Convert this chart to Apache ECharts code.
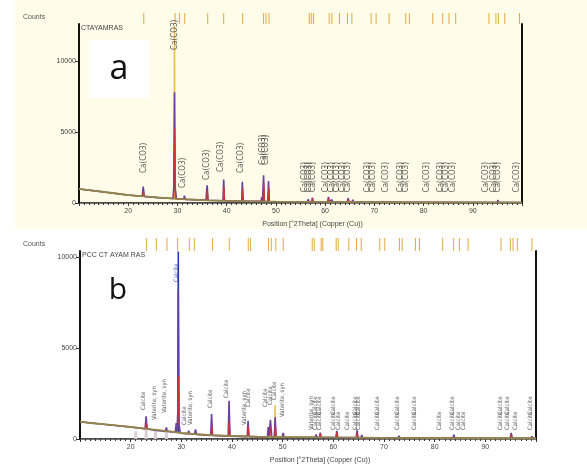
<!DOCTYPE html>
<html>
<head>
<meta charset="utf-8">
<script src="https://cdn.jsdelivr.net/npm/echarts@6/dist/echarts.min.js"></script>
<style>
html, body { margin: 0; padding: 0; background: #fff; }
#main { width: 587px; height: 465px; }
</style>
</head>
<body>
<div id="main"></div>
<script>
// ---- panel a : CTAYAMRAS ----
var thetaA = [10, 15, 20, 22.85, 23.05, 23.25, 26, 29.1, 29.25, 29.4, 29.55, 29.8, 31.25, 31.42, 31.6, 35.8, 35.95, 36.05, 36.2, 39.25, 39.4, 39.55, 43.05, 43.18, 43.35, 47.0, 47.12, 47.28, 47.4, 47.5, 47.65, 48.35, 48.5, 48.65, 56.4, 56.58, 56.75, 57.25, 57.42, 57.6, 60.5, 60.68, 60.85, 61.2, 61.38, 61.55, 62.9, 63.05, 63.2, 64.5, 64.68, 64.85, 65.45, 65.62, 65.8, 69.0, 69.2, 69.4, 72.75, 72.95, 73.15, 76.1, 76.3, 76.5, 81.3, 81.5, 81.7, 83.6, 83.8, 84.0, 84.6, 84.8, 85.0, 94.2, 94.42, 94.6, 94.95, 95.12, 95.3, 100];
var countsA = [990, 780, 560, 470, 1150, 465, 380, 320, 1100, 7800, 1000, 300, 260, 520, 255, 200, 950, 1250, 195, 160, 1650, 158, 130, 1500, 128, 118, 420, 116, 118, 1950, 115, 110, 1550, 108, 90, 260, 90, 88, 380, 88, 85, 430, 84, 82, 230, 82, 80, 200, 80, 76, 340, 75, 74, 230, 73, 66, 140, 65, 60, 160, 60, 55, 130, 55, 50, 110, 50, 48, 180, 48, 47, 130, 47, 40, 150, 40, 40, 210, 40, 38];
var thetaRedA = [10, 20, 22.9, 23.1, 23.3, 29.25, 29.45, 29.65, 35.9, 36.08, 36.25, 39.3, 39.46, 39.6, 43.1, 43.24, 43.4, 47.4, 47.55, 47.7, 48.4, 48.56, 48.7, 57.3, 57.45, 57.6, 60.6, 60.72, 60.9, 64.6, 64.72, 64.9, 100];
var countsRedA = [980, 555, 465, 800, 460, 300, 5300, 290, 195, 900, 190, 158, 1150, 155, 128, 1050, 126, 118, 1400, 116, 108, 1150, 106, 88, 300, 88, 85, 330, 84, 75, 260, 74, 38];
var thetaOrangeA = [29.3, 29.4, 29.5];
var countsOrangeA = [300, 12500, 300];
var thetaBgA = [10, 12, 15, 18, 20, 22, 25, 28, 30, 33, 36, 40, 45, 50, 60, 70, 80, 90, 100];
var countsBgA = [990, 900, 780, 650, 560, 500, 420, 340, 290, 240, 190, 150, 120, 100, 80, 62, 50, 42, 38];
var refTicksA = [23.16, 29.53, 30.4, 31.48, 36.15, 39.39, 43.25, 47.5, 47.99, 48.6, 56.78, 57.18, 57.65, 60.83, 61.38, 62.92, 64.54, 65.44, 69.35, 70.36, 73.0, 76.39, 77.12, 81.87, 83.9, 85.17, 86.53, 93.29, 94.7, 95.2, 96.5, 99.5];
var labelThetaA = [23.1, 29.4, 31.2, 36.0, 38.9, 42.9, 47.45, 48.05, 55.9, 56.8, 57.6, 60.2, 61.4, 62.5, 63.7, 64.7, 68.7, 69.7, 72.4, 75.5, 76.4, 80.6, 83.5, 84.5, 86.0, 92.7, 94.2, 95.2, 98.9];
var labelCountA = [2110, 10770, 1060, 1620, 2180, 2110, 2680, 2680, 750, 750, 750, 750, 750, 750, 750, 750, 750, 750, 750, 750, 750, 750, 750, 750, 750, 750, 750, 750, 750];

// ---- panel b : PCC CT AYAM RAS ----
var thetaB = [10, 15, 20, 22.85, 23.05, 23.25, 24.7, 24.9, 25.1, 26.85, 27.05, 27.25, 28.8, 29.0, 29.15, 29.3, 29.4, 29.52, 29.8, 31.25, 31.45, 31.6, 32.6, 32.8, 33.0, 35.8, 35.97, 36.15, 39.25, 39.42, 39.6, 43.0, 43.17, 43.35, 47.0, 47.15, 47.3, 47.45, 47.58, 47.7, 47.85, 48.35, 48.52, 48.7, 49.9, 50.1, 50.3, 56.4, 56.6, 56.8, 57.25, 57.42, 57.6, 60.5, 60.68, 60.85, 62.9, 63.05, 63.2, 64.5, 64.68, 64.85, 65.45, 65.62, 65.8, 69.0, 69.2, 69.4, 72.75, 72.95, 73.15, 76.1, 76.3, 76.5, 81.3, 81.5, 81.7, 83.6, 83.8, 84.0, 94.9, 95.1, 95.3, 99.0, 99.2, 99.4, 100];
var countsB = [950, 800, 660, 560, 1250, 550, 480, 560, 475, 420, 640, 415, 370, 880, 380, 1500, 8200, 900, 320, 290, 450, 285, 260, 520, 255, 200, 1370, 198, 160, 2100, 158, 130, 1000, 128, 118, 650, 117, 118, 1050, 1100, 115, 112, 1200, 110, 100, 330, 100, 85, 250, 85, 84, 350, 84, 80, 450, 80, 78, 180, 78, 75, 480, 74, 73, 220, 72, 66, 120, 66, 60, 170, 60, 56, 150, 56, 50, 130, 50, 48, 230, 48, 42, 330, 42, 40, 150, 40, 40];
var thetaRedB = [10, 20, 22.9, 23.1, 23.3, 29.25, 29.45, 29.65, 35.85, 36.02, 36.2, 39.3, 39.46, 39.62, 43.05, 43.2, 43.38, 47.45, 47.62, 47.8, 48.4, 48.56, 48.72, 57.3, 57.46, 57.62, 60.55, 60.72, 60.9, 64.55, 64.72, 64.9, 95.0, 95.15, 95.3, 100];
var countsRedB = [950, 655, 555, 900, 550, 380, 3400, 320, 198, 800, 196, 158, 1000, 156, 128, 700, 126, 116, 700, 114, 110, 750, 108, 84, 300, 84, 80, 400, 80, 74, 350, 73, 42, 250, 42, 40];
var thetaBlueB = [29.3, 29.4, 29.5];
var countsBlueB = [400, 10300, 400];
var thetaOrangeB = [39.3, 39.4, 39.5, 48.4, 48.5, 48.6];
var countsOrangeB = [160, 2000, 158, 112, 1870, 110];
var thetaBgB = [10, 12, 15, 18, 20, 22, 25, 28, 30, 33, 36, 40, 45, 50, 60, 70, 80, 90, 100];
var countsBgB = [950, 880, 800, 720, 660, 600, 500, 400, 330, 270, 210, 165, 130, 110, 85, 65, 50, 42, 40];
var stickThetaB = [21.0, 23.05, 24.9, 27.05];
var stickCountB = [420, 500, 480, 430];
var refTicksB = [23.1, 25.07, 27.16, 29.27, 31.58, 32.56, 36.17, 39.46, 43.21, 43.66, 47.21, 47.75, 48.65, 50.11, 55.83, 56.23, 57.6, 57.92, 60.56, 60.96, 63.05, 64.57, 65.5, 69.16, 70.15, 73.05, 73.58, 76.2, 76.99, 81.58, 83.75, 84.88, 86.6, 93.1, 94.93, 95.47, 96.32, 99.2];
var labelThetaB = [22.6, 24.6, 26.6, 29.1, 30.7, 31.7, 35.8, 38.9, 42.5, 43.3, 46.6, 47.5, 48.4, 49.9,
    55.63, 56.48, 57.33, 60.1, 61.08, 62.7, 64.37, 65.02, 68.65, 72.6, 76.0, 81.0, 83.44, 84.74, 85.73, 92.96, 94.4, 95.9, 98.9,
    56.48, 57.33, 60.1, 64.37, 65.02, 68.65, 72.6, 76.0, 83.44, 92.96, 94.4, 98.9];
var labelCountB = [1590, 1040, 1430, 8620, 770, 770, 1700, 2250, 770, 1760, 1760, 1870, 2140, 1210,
    490, 490, 490, 490, 490, 490, 490, 490, 490, 490, 490, 490, 490, 490, 490, 490, 490, 490, 490,
    1320, 1320, 1320, 1320, 1320, 1320, 1320, 1320, 1320, 1320, 1320, 1320];
var labelTextB = ['Calcite', 'Vaterite, syn', 'Vaterite, syn', 'Calcite', 'Calcite', 'Vaterite, syn', 'Calcite', 'Calcite', 'Vaterite, syn', 'Calcite', 'Calcite', 'Calcite', 'Calcite', 'Vaterite, syn',
    'Vaterite, syn', 'Calcite', 'Calcite', 'Calcite', 'Calcite', 'Calcite', 'Calcite', 'Calcite', 'Calcite', 'Calcite', 'Calcite', 'Calcite', 'Calcite', 'Calcite', 'Calcite', 'Calcite', 'Calcite', 'Calcite', 'Calcite',
    'Calcite', 'Calcite', 'Calcite', 'Calcite', 'Calcite', 'Calcite', 'Calcite', 'Calcite', 'Calcite', 'Calcite', 'Calcite', 'Calcite'];

var xTickLabels = [20, 30, 40, 50, 60, 70, 80, 90];
var yTickLabels = [0, 5000, 10000];

function pairs(xs, ys) {
    return xs.map(function (x, i) { return [x, ys[i]]; });
}

var textFont = "'Liberation Sans', 'DejaVu Sans', sans-serif";
var narrowFont = "'Liberation Sans Narrow', 'DejaVu Sans Condensed', 'Liberation Sans', sans-serif";

function mainX(grid, max) {
    return {
        type: 'value', gridIndex: grid, min: 10, max: 100, interval: 10, position: 'bottom',
        axisLine: { show: true, lineStyle: { color: '#111', width: 1.5 } },
        axisTick: { show: true, length: 3, lineStyle: { color: '#333' } },
        minorTick: { show: true, splitNumber: 10, length: 2, lineStyle: { color: '#333' } },
        axisLabel: { customValues: xTickLabels, fontSize: 7, color: '#444', fontFamily: textFont, margin: 5 },
        splitLine: { show: false },
        name: 'Position [°2Theta] (Copper (Cu))', nameLocation: 'middle', nameGap: 18,
        nameTextStyle: { fontSize: 7, color: '#444', fontFamily: textFont, padding: [0, 0, 0, 24] }
    };
}
function topX(grid) {
    return {
        type: 'value', gridIndex: grid, min: 10, max: 100, position: 'top',
        axisLine: { show: true, lineStyle: { color: '#777', width: 1 } },
        axisTick: { show: false }, axisLabel: { show: false }, splitLine: { show: false }
    };
}
function hiddenX(grid) {
    return { type: 'value', gridIndex: grid, min: 10, max: 100, show: false };
}
function leftY(grid, max) {
    return {
        type: 'value', gridIndex: grid, min: 0, max: max, position: 'left',
        axisLine: { show: true, lineStyle: { color: '#111', width: 2 } },
        axisTick: { show: true, customValues: yTickLabels, length: 4, lineStyle: { color: '#333' } },
        axisLabel: {
            customValues: yTickLabels, fontSize: 7, color: '#444', fontFamily: textFont, margin: 3,
            formatter: function (v) { return String(v); }
        },
        splitLine: { show: false }
    };
}
function rightY(grid, max) {
    return {
        type: 'value', gridIndex: grid, min: 0, max: max, position: 'right',
        axisLine: { show: true, lineStyle: { color: '#111', width: 2 } },
        axisTick: { show: false }, axisLabel: { show: false }, splitLine: { show: false }
    };
}
function hiddenY(grid) {
    return { type: 'value', gridIndex: grid, min: 0, max: 1, show: false };
}

function lineSeries(xi, yi, data, color, width, z) {
    return {
        type: 'line', xAxisIndex: xi, yAxisIndex: yi, data: data, symbol: 'none',
        lineStyle: { color: color, width: width }, z: z, silent: true
    };
}
function tickSeries(xi, yi, ticks) {
    return {
        type: 'bar', xAxisIndex: xi, yAxisIndex: yi, barWidth: 1,
        data: ticks.map(function (t) { return [t, 1]; }),
        itemStyle: { color: '#e2aa3c' }, silent: true
    };
}
function labelSeries(xi, yi, items, size) {
    return {
        type: 'scatter', xAxisIndex: xi, yAxisIndex: yi, symbolSize: 0, z: 10, silent: true,
        data: items,
        label: {
            show: true, formatter: '{b}', position: 'inside', align: 'left', verticalAlign: 'middle',
            rotate: 90, fontSize: size, color: '#333', fontFamily: narrowFont
        }
    };
}

var labelsA = labelThetaA.map(function (t, i) {
    return { name: 'Ca(CO3)', value: [t, labelCountA[i]] };
});
var labelsB = labelThetaB.map(function (t, i) {
    var item = { name: labelTextB[i], value: [t, labelCountB[i]] };
    if (i === 3) item.label = { color: '#2233bb' };
    return item;
});

var myChart = echarts.init(document.getElementById('main'), null, { renderer: 'canvas' });
var option = {
    animation: false,
    backgroundColor: '#fff',
    grid: [
        { left: 79, right: 65, top: 24, height: 179 },
        { left: 79, right: 65, top: 13, height: 11 },
        { left: 80, right: 51, top: 251, height: 188 },
        { left: 80, right: 51, top: 238, height: 13 }
    ],
    xAxis: [mainX(0), topX(0), hiddenX(1), mainX(2), topX(2), hiddenX(3)],
    yAxis: [leftY(0, 12600), rightY(0, 12600), hiddenY(1), leftY(2, 10330), rightY(2, 10330), hiddenY(3)],
    graphic: [
        { type: 'rect', z: -100, silent: true, shape: { x: 15, y: 0, width: 572, height: 229 }, style: { fill: '#fffdea' } },
        { type: 'text', left: 23, top: 14, silent: true, style: { text: 'Counts', fill: '#555', font: '7px ' + textFont } },
        { type: 'text', left: 81, top: 25, silent: true, style: { text: 'CTAYAMRAS', fill: '#444', font: '7px ' + textFont } },
        { type: 'rect', silent: true, shape: { x: 89, y: 40, width: 60, height: 58 }, style: { fill: '#ffffff' } },
        { type: 'text', silent: true, x: 119, y: 69, style: { text: 'a', fill: '#111', font: '34px "Open Sans", sans-serif', textAlign: 'center', textVerticalAlign: 'middle' } },
        { type: 'text', left: 23, top: 241, silent: true, style: { text: 'Counts', fill: '#555', font: '7px ' + textFont } },
        { type: 'text', left: 82, top: 252, silent: true, style: { text: 'PCC CT AYAM RAS', fill: '#444', font: '7px ' + textFont } },
        { type: 'text', silent: true, x: 118, y: 290, style: { text: 'b', fill: '#111', font: '30px "Open Sans", sans-serif', textAlign: 'center', textVerticalAlign: 'middle' } }
    ],
    series: [
        // panel a
        lineSeries(0, 0, pairs(thetaOrangeA, countsOrangeA), '#f1b84a', 1.4, 2),
        lineSeries(0, 0, pairs(thetaA, countsA), '#6a3fa2', 1.6, 3),
        lineSeries(0, 0, pairs(thetaRedA, countsRedA), '#d2342c', 1.1, 4),
        lineSeries(0, 0, pairs(thetaBgA, countsBgA), '#8f874e', 1.8, 5),
        tickSeries(2, 2, refTicksA),
        labelSeries(0, 0, labelsA, 8),
        // panel b
        {
            type: 'bar', xAxisIndex: 3, yAxisIndex: 3, barWidth: 3, silent: true, z: 1,
            data: pairs(stickThetaB, stickCountB), itemStyle: { color: '#dccfcf' }
        },
        lineSeries(3, 3, pairs(thetaBlueB, countsBlueB), '#2233bb', 1.5, 2),
        lineSeries(3, 3, pairs(thetaOrangeB, countsOrangeB), '#f1b84a', 1.4, 2),
        lineSeries(3, 3, pairs(thetaB, countsB), '#6a3fa2', 1.6, 3),
        lineSeries(3, 3, pairs(thetaRedB, countsRedB), '#d2342c', 1.1, 4),
        lineSeries(3, 3, pairs(thetaBgB, countsBgB), '#8f874e', 1.8, 5),
        tickSeries(5, 5, refTicksB),
        labelSeries(3, 3, labelsB, 6)
    ]
};
myChart.setOption(option);
</script>
</body>
</html>
